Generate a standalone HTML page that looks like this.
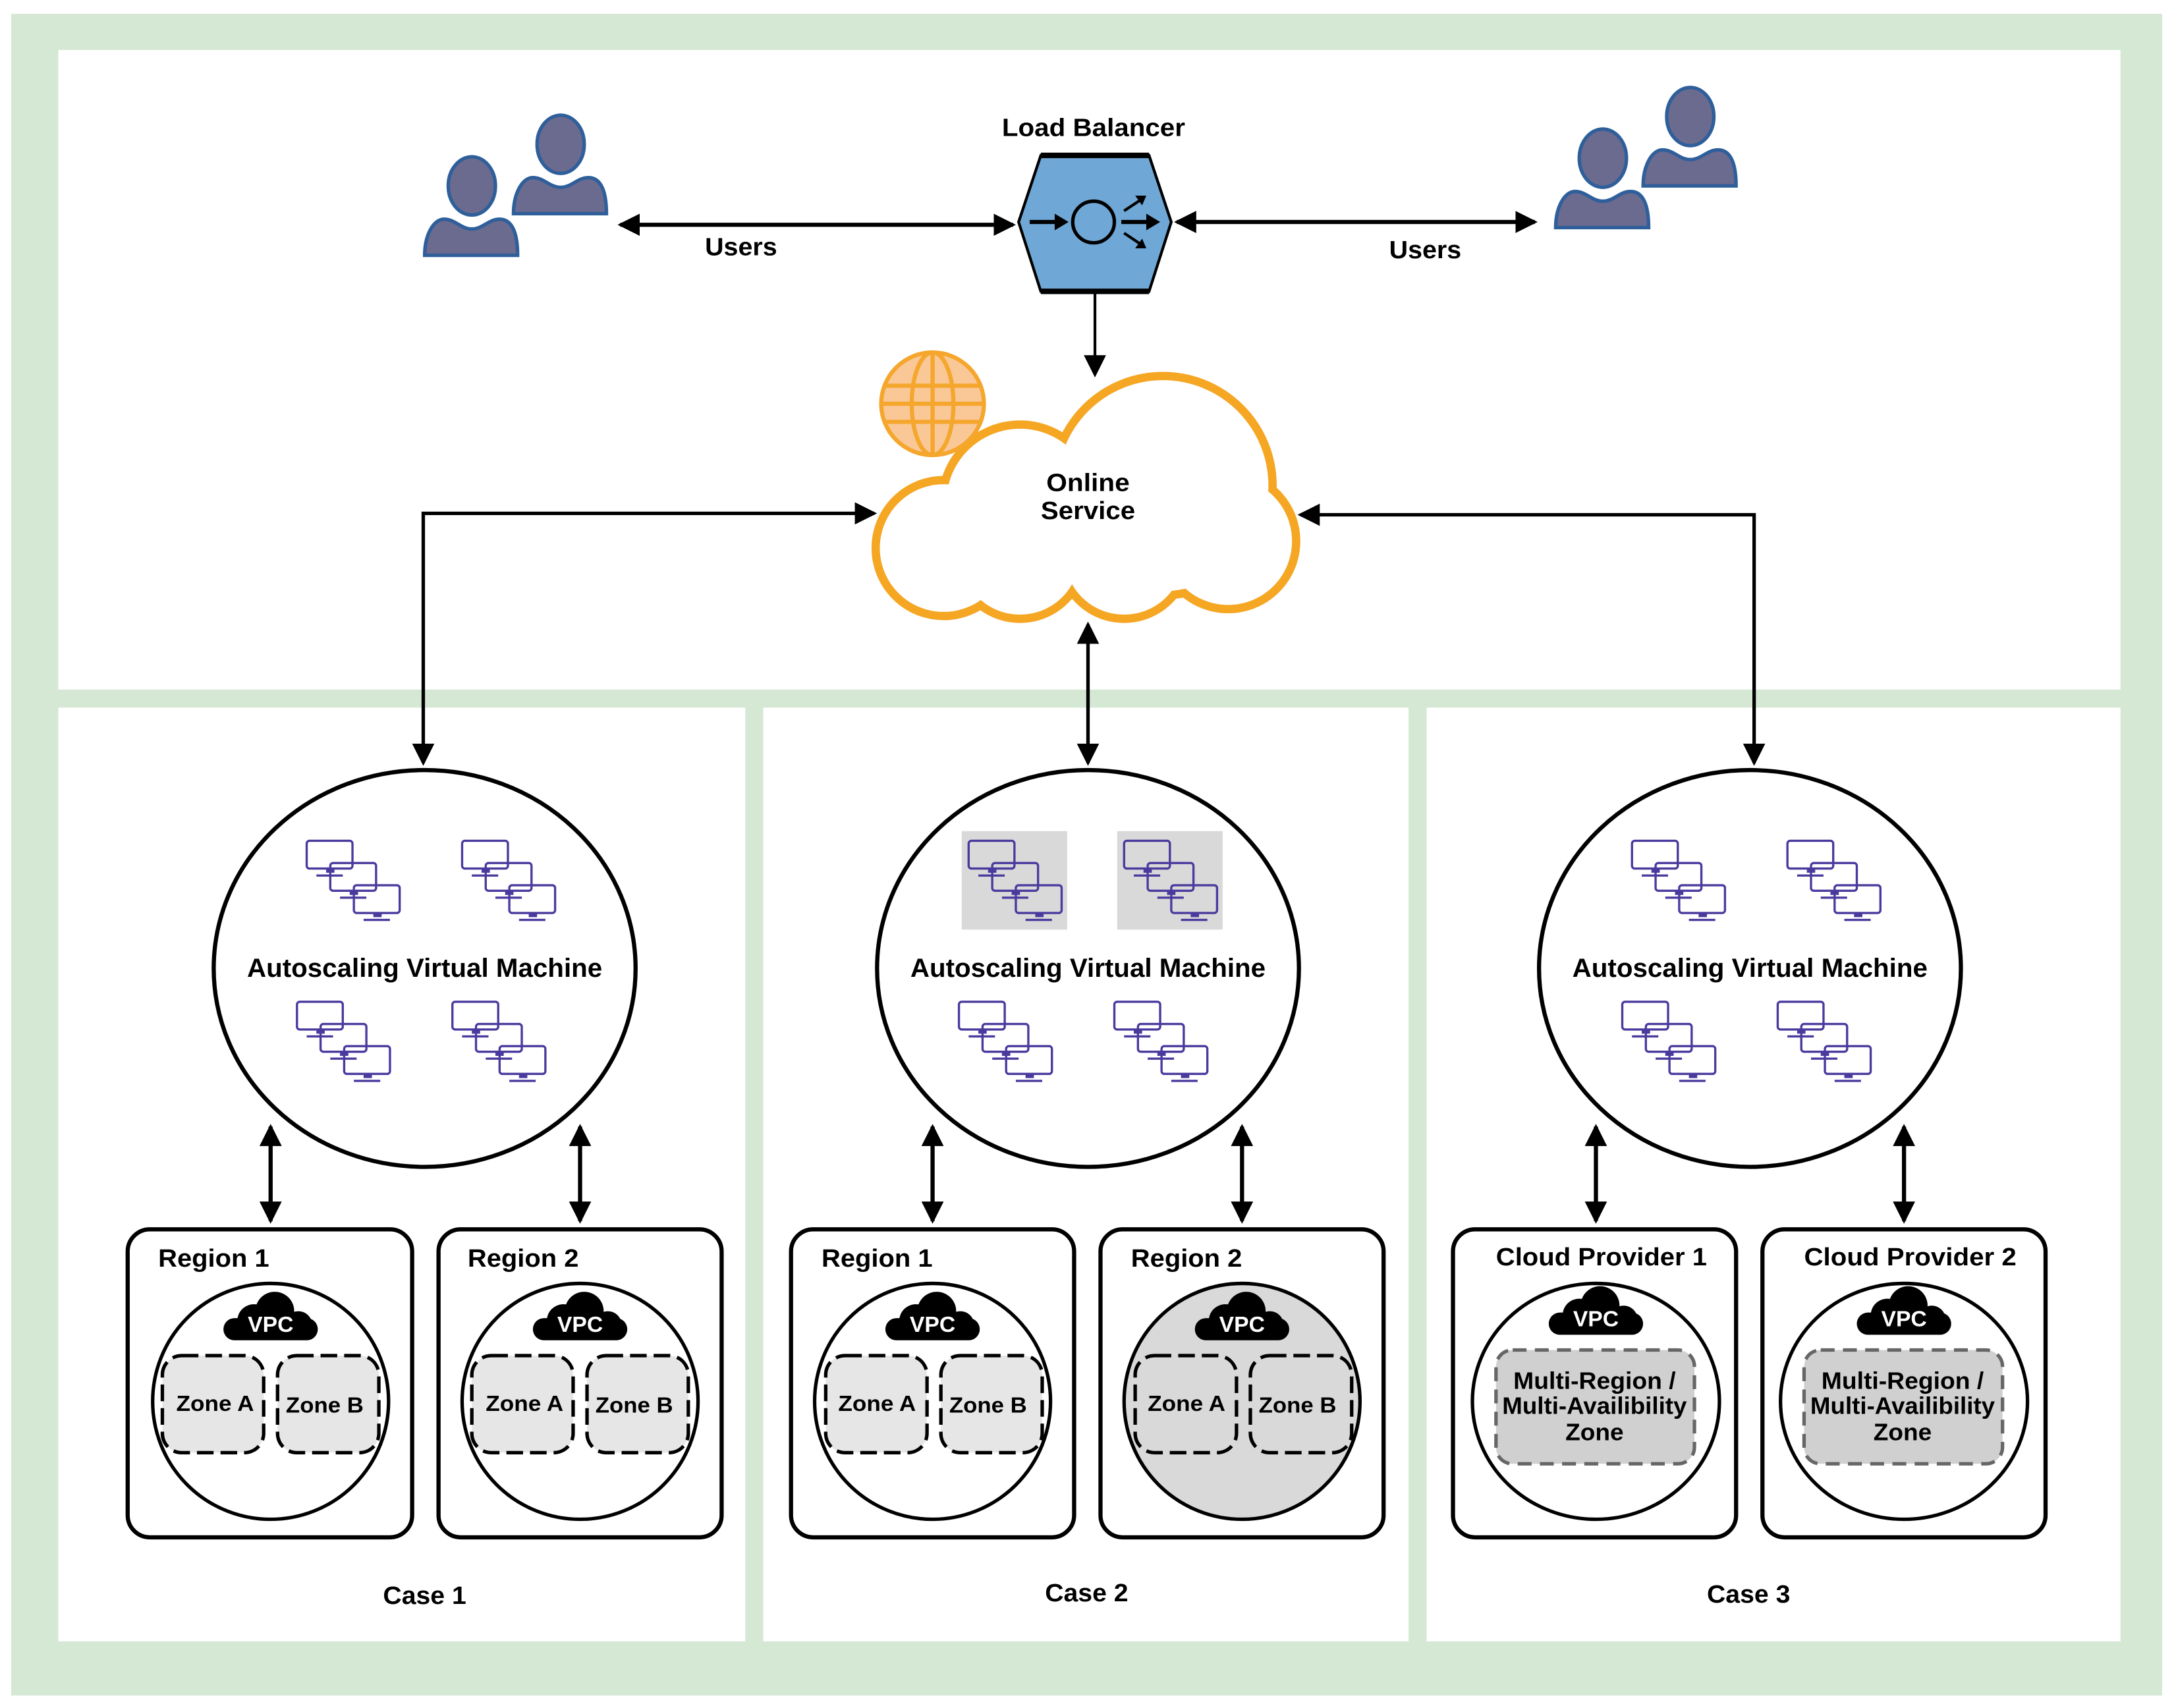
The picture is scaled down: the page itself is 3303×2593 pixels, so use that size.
<!DOCTYPE html>
<html><head><meta charset="utf-8"><style>
html,body{margin:0;padding:0;background:#fff;}
svg{display:block;}
text{font-family:"Liberation Sans",Arial,sans-serif;font-weight:bold;fill:#000;}
</style></head><body>
<svg width="3303" height="2593" viewBox="0 0 1568 1231" preserveAspectRatio="none" xmlns="http://www.w3.org/2000/svg">
<defs>
<marker id="ah" markerUnits="userSpaceOnUse" markerWidth="16" markerHeight="16" refX="14" refY="8" orient="auto-start-reverse" viewBox="0 0 16 16">
<path d="M0,0 L16,8 L0,16 Z" fill="#000"/>
</marker>
<g id="mon" fill="none" stroke="#4a3a9e" stroke-width="1.6">
<rect x="0" y="0" width="33" height="20" rx="2" fill="none"/>
<rect x="14" y="20" width="6" height="3" fill="#4a3a9e" stroke="none"/>
<line x1="7" y1="25" x2="26" y2="25"/>
</g>
<g id="mons">
<use href="#mon" x="0" y="0"/>
<use href="#mon" x="17" y="16"/>
<use href="#mon" x="34" y="32"/>
</g>
<g id="vpc">
<circle cx="-12" cy="2" r="12" fill="#000"/>
<circle cx="3" cy="-5" r="14" fill="#000"/>
<circle cx="20" cy="5" r="10" fill="#000"/>
<rect x="-34" y="0" width="68" height="16" rx="8" fill="#000"/>
<text x="0" y="10" font-size="16" text-anchor="middle" style="fill:#fff">VPC</text>
</g>
<g id="person">
<ellipse cx="0" cy="0" rx="17" ry="21" fill="#6b6a8f" stroke="#2e5f9a" stroke-width="2.5"/>
<path d="M-34,50 C-34,36 -28,24 -20,24 C-12,24 -8,31 0,31 C8,31 12,24 20,24 C30,24 33,36 33,50 Z" fill="#6b6a8f" stroke="#2e5f9a" stroke-width="2.5"/>
</g>
</defs>

<rect x="8" y="10" width="1550" height="1212" fill="#d5e8d4"/>
<rect x="42" y="36" width="1486" height="461" fill="#fff"/>
<rect x="42" y="510" width="495" height="673" fill="#fff"/>
<rect x="550" y="510" width="465" height="673" fill="#fff"/>
<rect x="1028" y="510" width="500" height="673" fill="#fff"/>

<use href="#person" x="404" y="104"/>
<use href="#person" x="340" y="134"/>
<use href="#person" x="1218" y="84"/>
<use href="#person" x="1155" y="114"/>

<text x="788" y="98" font-size="18" text-anchor="middle" textLength="132" lengthAdjust="spacingAndGlyphs">Load Balancer</text>
<polygon points="750,112 828,112 844,160 828,210 750,210 734,160" fill="#6fa8d6" stroke="#000" stroke-width="2"/>
<line x1="750" y1="112" x2="828" y2="112" stroke="#000" stroke-width="4"/>
<line x1="750" y1="210" x2="828" y2="210" stroke="#000" stroke-width="4"/>
<circle cx="788" cy="160" r="15" fill="none" stroke="#000" stroke-width="2.5"/>
<line x1="742" y1="160" x2="762" y2="160" stroke="#000" stroke-width="3"/>
<path d="M760,154 L770,160 L760,166 Z"/>
<line x1="808" y1="160" x2="828" y2="160" stroke="#000" stroke-width="3"/>
<path d="M826,154 L836,160 L826,166 Z"/>
<line x1="810" y1="152" x2="822" y2="144" stroke="#000" stroke-width="2"/>
<path d="M818,141 L826,141 L823,148 Z"/>
<line x1="810" y1="168" x2="822" y2="176" stroke="#000" stroke-width="2"/>
<path d="M818,179 L826,179 L823,172 Z"/>

<line x1="447" y1="162" x2="730" y2="162" stroke="#000" stroke-width="3" marker-start="url(#ah)" marker-end="url(#ah)"/>
<text x="534" y="184" font-size="18" text-anchor="middle" textLength="52" lengthAdjust="spacingAndGlyphs">Users</text>
<line x1="848" y1="160" x2="1106" y2="160" stroke="#000" stroke-width="3" marker-start="url(#ah)" marker-end="url(#ah)"/>
<text x="1027" y="186" font-size="18" text-anchor="middle" textLength="52" lengthAdjust="spacingAndGlyphs">Users</text>
<line x1="789" y1="210" x2="789" y2="270" stroke="#000" stroke-width="2" marker-end="url(#ah)"/>

<g stroke="#f5a623" stroke-width="8" fill="#f5a623">
<circle cx="838" cy="350" r="78"/>
<circle cx="735" cy="362" r="55"/>
<circle cx="680" cy="395" r="48"/>
<circle cx="735" cy="400" r="45"/>
<circle cx="810" cy="400" r="45"/>
<circle cx="885" cy="390" r="48"/>
</g>
<g fill="#fff">
<circle cx="838" cy="350" r="76"/>
<circle cx="735" cy="362" r="53"/>
<circle cx="680" cy="395" r="46"/>
<circle cx="735" cy="400" r="43"/>
<circle cx="810" cy="400" r="43"/>
<circle cx="885" cy="390" r="46"/>
<rect x="700" y="330" width="180" height="90"/>
</g>
<text x="784" y="354" font-size="18" text-anchor="middle" textLength="60" lengthAdjust="spacingAndGlyphs">Online</text>
<text x="784" y="374" font-size="18" text-anchor="middle" textLength="68" lengthAdjust="spacingAndGlyphs">Service</text>

<circle cx="672" cy="291" r="37" fill="#f9c896" stroke="#f5a62d" stroke-width="3"/>
<ellipse cx="672" cy="291" rx="15" ry="37" fill="none" stroke="#f5a62d" stroke-width="3"/>
<line x1="672" y1="254" x2="672" y2="328" stroke="#f5a62d" stroke-width="3"/>
<line x1="637" y1="278" x2="707" y2="278" stroke="#f5a62d" stroke-width="3"/>
<line x1="635" y1="291" x2="709" y2="291" stroke="#f5a62d" stroke-width="3"/>
<line x1="637" y1="304" x2="707" y2="304" stroke="#f5a62d" stroke-width="3"/>

<path d="M305,550 L305,370 L630,370" fill="none" stroke="#000" stroke-width="2.5" marker-start="url(#ah)" marker-end="url(#ah)"/>
<path d="M1264,550 L1264,371 L937,371" fill="none" stroke="#000" stroke-width="2.5" marker-start="url(#ah)" marker-end="url(#ah)"/>
<line x1="784" y1="450" x2="784" y2="550" stroke="#000" stroke-width="2.5" marker-start="url(#ah)" marker-end="url(#ah)"/>

<ellipse cx="306" cy="698" rx="152" ry="143" fill="#fff" stroke="#000" stroke-width="3"/>
<ellipse cx="784" cy="698" rx="152" ry="143" fill="#fff" stroke="#000" stroke-width="3"/>
<ellipse cx="1261" cy="698" rx="152" ry="143" fill="#fff" stroke="#000" stroke-width="3"/>
<rect x="693" y="599" width="76" height="71" fill="#d9d9d9"/>
<rect x="805" y="599" width="76" height="71" fill="#d9d9d9"/>
<g font-size="19" text-anchor="middle">
<text x="306" y="704" textLength="256" lengthAdjust="spacingAndGlyphs">Autoscaling Virtual Machine</text>
<text x="784" y="704" textLength="256" lengthAdjust="spacingAndGlyphs">Autoscaling Virtual Machine</text>
<text x="1261" y="704" textLength="256" lengthAdjust="spacingAndGlyphs">Autoscaling Virtual Machine</text>
</g>
<use href="#mons" x="221" y="606"/><use href="#mons" x="333" y="606"/>
<use href="#mons" x="214" y="722"/><use href="#mons" x="326" y="722"/>
<use href="#mons" x="698" y="606"/><use href="#mons" x="810" y="606"/>
<use href="#mons" x="691" y="722"/><use href="#mons" x="803" y="722"/>
<use href="#mons" x="1176" y="606"/><use href="#mons" x="1288" y="606"/>
<use href="#mons" x="1169" y="722"/><use href="#mons" x="1281" y="722"/>

<g stroke="#000" stroke-width="3">
<line x1="195" y1="812" x2="195" y2="880" marker-start="url(#ah)" marker-end="url(#ah)"/>
<line x1="418" y1="812" x2="418" y2="880" marker-start="url(#ah)" marker-end="url(#ah)"/>
<line x1="672" y1="812" x2="672" y2="880" marker-start="url(#ah)" marker-end="url(#ah)"/>
<line x1="895" y1="812" x2="895" y2="880" marker-start="url(#ah)" marker-end="url(#ah)"/>
<line x1="1150" y1="812" x2="1150" y2="880" marker-start="url(#ah)" marker-end="url(#ah)"/>
<line x1="1372" y1="812" x2="1372" y2="880" marker-start="url(#ah)" marker-end="url(#ah)"/>
</g>

<g fill="#fff" stroke="#000" stroke-width="3">
<rect x="92" y="886" width="205" height="222" rx="16"/>
<rect x="316" y="886" width="204" height="222" rx="16"/>
<rect x="570" y="886" width="204" height="222" rx="16"/>
<rect x="793" y="886" width="204" height="222" rx="16"/>
<rect x="1047" y="886" width="204" height="222" rx="16"/>
<rect x="1270" y="886" width="204" height="222" rx="16"/>
</g>
<g font-size="18">
<text x="114" y="913" textLength="80" lengthAdjust="spacingAndGlyphs">Region 1</text>
<text x="337" y="913" textLength="80" lengthAdjust="spacingAndGlyphs">Region 2</text>
<text x="592" y="913" textLength="80" lengthAdjust="spacingAndGlyphs">Region 1</text>
<text x="815" y="913" textLength="80" lengthAdjust="spacingAndGlyphs">Region 2</text>
<text x="1078" y="912" textLength="152" lengthAdjust="spacingAndGlyphs">Cloud Provider 1</text>
<text x="1300" y="912" textLength="153" lengthAdjust="spacingAndGlyphs">Cloud Provider 2</text>
</g>

<g stroke="#000" stroke-width="2.5">
<circle cx="195" cy="1010" r="85" fill="#fff"/>
<circle cx="418" cy="1010" r="85" fill="#fff"/>
<circle cx="672" cy="1010" r="85" fill="#fff"/>
<circle cx="895" cy="1010" r="85" fill="#d9d9d9"/>
<ellipse cx="1150" cy="1010" rx="89" ry="85" fill="#fff"/>
<ellipse cx="1372" cy="1010" rx="89" ry="85" fill="#fff"/>
</g>
<use href="#vpc" x="195" y="950"/><use href="#vpc" x="418" y="950"/>
<use href="#vpc" x="672" y="950"/><use href="#vpc" x="895" y="950"/>
<use href="#vpc" x="1150" y="946"/><use href="#vpc" x="1372" y="946"/>

<g fill="#e6e6e6" stroke="#000" stroke-width="2.5" stroke-dasharray="12,5">
<rect x="117" y="977" width="73" height="70" rx="14"/>
<rect x="200" y="977" width="73" height="70" rx="14"/>
<rect x="340" y="977" width="73" height="70" rx="14"/>
<rect x="423" y="977" width="73" height="70" rx="14"/>
<rect x="595" y="977" width="73" height="70" rx="14"/>
<rect x="678" y="977" width="73" height="70" rx="14"/>
</g>
<g fill="#d9d9d9" stroke="#000" stroke-width="2.5" stroke-dasharray="12,5">
<rect x="818" y="977" width="73" height="70" rx="14"/>
<rect x="901" y="977" width="73" height="70" rx="14"/>
</g>
<g font-size="16" text-anchor="middle">
<text x="155" y="1017" textLength="56" lengthAdjust="spacingAndGlyphs">Zone A</text><text x="234" y="1018" textLength="56" lengthAdjust="spacingAndGlyphs">Zone B</text>
<text x="378" y="1017" textLength="56" lengthAdjust="spacingAndGlyphs">Zone A</text><text x="457" y="1018" textLength="56" lengthAdjust="spacingAndGlyphs">Zone B</text>
<text x="632" y="1017" textLength="56" lengthAdjust="spacingAndGlyphs">Zone A</text><text x="712" y="1018" textLength="56" lengthAdjust="spacingAndGlyphs">Zone B</text>
<text x="855" y="1017" textLength="56" lengthAdjust="spacingAndGlyphs">Zone A</text><text x="935" y="1018" textLength="56" lengthAdjust="spacingAndGlyphs">Zone B</text>
</g>
<g fill="#d0d0d0" stroke="#666" stroke-width="2.5" stroke-dasharray="10,6">
<rect x="1078" y="973" width="143" height="82" rx="12"/>
<rect x="1300" y="973" width="143" height="82" rx="12"/>
</g>
<g font-size="17" text-anchor="middle">
<text x="1149" y="1001" textLength="117" lengthAdjust="spacingAndGlyphs">Multi-Region /</text>
<text x="1149" y="1019" textLength="133" lengthAdjust="spacingAndGlyphs">Multi-Availibility</text>
<text x="1149" y="1038" textLength="42" lengthAdjust="spacingAndGlyphs">Zone</text>
<text x="1371" y="1001" textLength="117" lengthAdjust="spacingAndGlyphs">Multi-Region /</text>
<text x="1371" y="1019" textLength="133" lengthAdjust="spacingAndGlyphs">Multi-Availibility</text>
<text x="1371" y="1038" textLength="42" lengthAdjust="spacingAndGlyphs">Zone</text>
</g>

<g font-size="18" text-anchor="middle">
<text x="306" y="1156" textLength="60" lengthAdjust="spacingAndGlyphs">Case 1</text>
<text x="783" y="1154" textLength="60" lengthAdjust="spacingAndGlyphs">Case 2</text>
<text x="1260" y="1155" textLength="60" lengthAdjust="spacingAndGlyphs">Case 3</text>
</g>
</svg>
</body></html>
